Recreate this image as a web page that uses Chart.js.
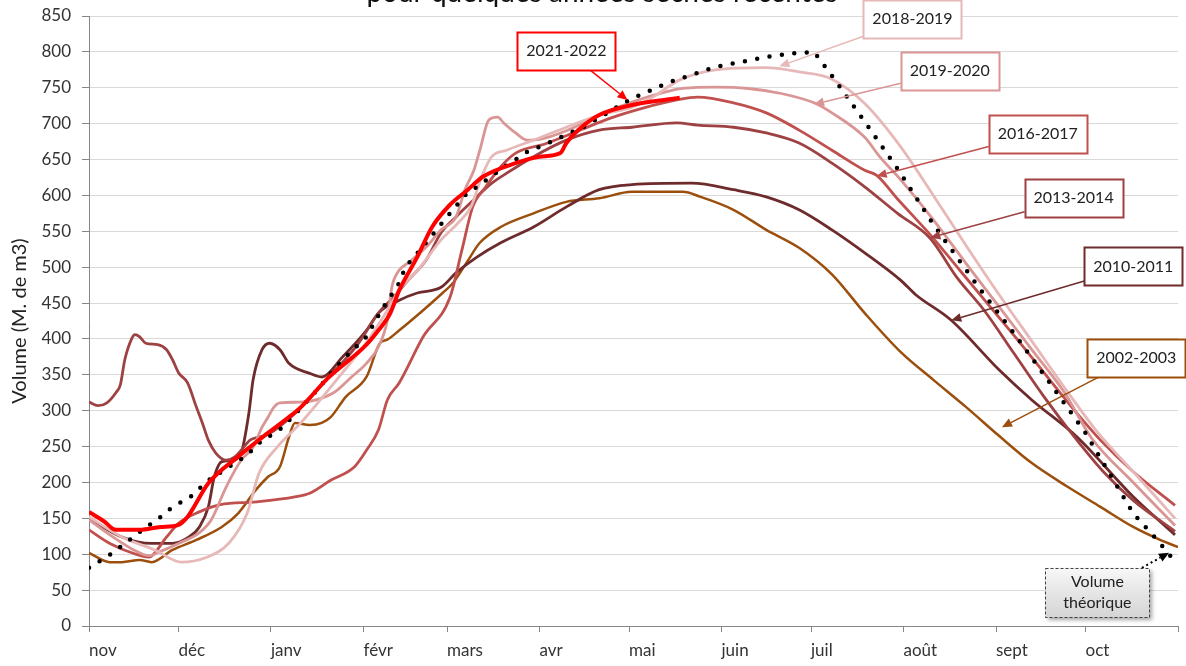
<!DOCTYPE html>
<html>
<head>
<meta charset="utf-8">
<script src="https://cdn.jsdelivr.net/npm/chart.js@4.4.0/dist/chart.umd.min.js"></script>
<style>
  html, body { margin: 0; padding: 0; background: #fff; }
</style>
</head>
<body>
<canvas id="c" width="1186" height="666"></canvas>
<script>
// days counted from 1 Nov; values in millions of m3
const monthLabels = ['nov', 'déc', 'janv', 'févr', 'mars', 'avr', 'mai', 'juin', 'juil', 'août', 'sept', 'oct', ''];
const monthStarts = [0, 30, 61, 92, 120, 151, 181, 212, 242, 273, 304, 334, 365];
const yTicks = [0, 850, 50]; // min, max, step

const s2122 = [[0,159],[5,146],[9,134],[17,134],[24,138],[30,141],[33,152],[40,199],[50,236],[60,269],[67,291],[71,305],[80,345],[93,392],[97,412],[101,436],[104,468],[110,514],[115,556],[121,587],[127,608],[132,626],[143,645],[151,654],[158,659],[160,673],[164,691],[171,712],[182,726],[198,736]];

const s1819 = [[0,152],[11,124],[22,106],[31,89],[39,95],[47,116],[53,157],[57,213],[63,249],[71,283],[83,343],[93,395],[100,440],[104,468],[111,500],[118,538],[124,563],[128,584],[132,630],[135,654],[140,663],[149,677],[160,695],[171,712],[182,723],[189,737],[194,751],[198,761],[210,775],[227,778],[238,772],[249,762],[260,728],[272,668],[283,600],[294,530],[305,462],[316,397],[327,332],[338,270],[350,215],[364,150]];

const s1920 = [[0,148],[7,127],[15,106],[20,98],[24,104],[30,115],[37,130],[41,148],[46,194],[51,231],[55,249],[58,277],[60,291],[62,305],[64,311],[71,312],[82,325],[88,347],[93,366],[97,389],[100,426],[101.5,472],[104,496],[107,506],[113,528],[118,552],[123,570],[126,608],[129,635],[131,663],[134,705],[137,709],[139,701],[143,687],[147,677],[151,678],[160,690],[171,712],[182,730],[194,745],[199,749],[210,751],[221,749],[232,742],[243,729],[249,715],[260,681],[265,654],[272,622],[283,566],[294,505],[305,445],[316,385],[327,325],[336,262],[350,200],[364,140]];

const s1617 = [[0,134],[7,115],[15,101],[20,96],[26,124],[30,143],[37,159],[44,169],[56,173],[69,180],[74,185],[81,203],[89,222],[93,245],[97,273],[100,315],[104,339],[112,403],[121,458],[125,524],[128.6,584],[133,612],[138,640],[143,659],[153,672],[164,690],[175,708],[186,722],[197,733],[204,737],[216,729],[227,715],[238,691],[249,663],[260,635],[264,628],[271,595],[282,545],[292,495],[302,445],[312,395],[322,343],[332,292],[339,259],[350,215],[364,168]];

const s1314 = [[0,312],[3,307],[6,311],[9,325],[10.5,336],[12,371],[14.4,401],[15.4,406],[17,403],[19,394],[23,392],[26,385],[28,371],[30,353],[33,339],[36,305],[38,283],[40,259],[42.5,241],[46,231],[49,236],[51,245],[54,259],[60,267],[70,300],[80,345],[90,392],[97,436],[102,458],[107,482],[113,510],[118,548],[123,570],[129,594],[135,617],[140,631],[149,654],[160,677],[171,691],[182,695],[197,701],[204,698],[216,695],[227,687],[238,673],[249,645],[260,612],[271,575],[282,540],[291,485],[300,440],[310,380],[320,320],[330,265],[340,215],[350,175],[364,132]];

const s1011 = [[0,150],[11,124],[21,115],[28,115],[33.5,124],[37,138],[40,166],[42,208],[44.5,229],[48,231],[51,241],[53.6,297],[55,343],[58,385],[60.6,394],[64,385],[67,366],[74,352],[78,347],[85,375],[93,412],[97,436],[104,454],[110,464],[118,472],[123,492],[130,514],[138,534],[149,556],[160,584],[171,608],[182,615],[202,617],[216,608],[227,598],[238,580],[249,552],[260,520],[272,482],[277,462],[289,426],[305,357],[316,315],[331,264],[350,180],[364,127]];

const s0203 = [[0,102],[7,89],[11,89],[17,92],[21,89],[28,106],[36,120],[44.5,138],[50,157],[56,190],[60,208],[64,222],[67,263],[69,283],[74,280],[78,283],[81,291],[86,319],[93,347],[97.5,394],[100,399],[104,412],[112,440],[118.5,464],[122,478],[126.5,506],[131,534],[138,556],[149,575],[160,591],[171,596],[182,605],[199,605],[205,598],[216,580],[227,552],[238,527],[249,490],[260,436],[272,382],[283,343],[294,305],[305,265],[316,227],[328,194],[339,166],[350,138],[359,120],[365,110]];

const sTheo = [[0,81],[8,102],[17,131],[24,152],[28,166],[34,180],[40,203],[47,222],[53,238],[57,255],[65,277],[75,322],[85,371],[93,403],[98,440],[101,459],[104,478],[106,500],[110,519],[118,560],[126,600],[140,642],[147,661],[154,673],[166,696],[181,733],[194,757],[210,779],[227,793],[236,798],[243,800],[250,761],[262,691],[272,631],[282,566],[285,548],[298,473],[310,408],[322,339],[334,269],[350,157],[358,120],[363,95]];

const notes = [
  { text: ['2021-2022'], color: '#FF0000', box: [160, 801], tip: [180.5, 733] },
  { text: ['2018-2019'], color: '#E6B9B8', box: [276, 846], tip: [231.4, 780] },
  { text: ['2019-2020'], color: '#D99694', box: [288.5, 773], tip: [243, 727] },
  { text: ['2016-2017'], color: '#C0504D', box: [318, 686], tip: [264, 627] },
  { text: ['2013-2014'], color: '#9E4143', box: [330, 596], tip: [282, 541] },
  { text: ['2010-2011'], color: '#6E2B2B', box: [350, 501], tip: [289, 426] },
  { text: ['2002-2003'], color: '#9C4E0C', box: [351, 374], tip: [306, 277] },
  { text: ['Volume', 'théorique'], color: '#000', box: [338, 47], tip: [362, 102], theo: true }
];

const toXY = arr => arr.map(p => ({ x: p[0], y: p[1] }));

function line(label, data, color, width) {
  return {
    label: label,
    data: toXY(data),
    borderColor: color,
    borderWidth: width,
    pointRadius: 0,
    fill: false,
    cubicInterpolationMode: 'monotone'
  };
}

function edgePoint(cx, cy, w, h, tx, ty) {
  const dx = tx - cx, dy = ty - cy;
  const sx = dx ? (w / 2) / Math.abs(dx) : Infinity;
  const sy = dy ? (h / 2) / Math.abs(dy) : Infinity;
  const s = Math.min(sx, sy);
  return [cx + dx * s, cy + dy * s];
}

const notesPlugin = {
  id: 'notes',
  afterDatasetsDraw(chart) {
    const { ctx } = chart;
    const x = chart.scales.x, y = chart.scales.y;
    ctx.save();
    notes.forEach(n => {
      const cx = x.getPixelForValue(n.box[0]), cy = y.getPixelForValue(n.box[1]);
      const tx = x.getPixelForValue(n.tip[0]), ty = y.getPixelForValue(n.tip[1]);
      const w = n.theo ? 104 : 98, h = n.theo ? 49 : 38;
      const [sx, sy] = edgePoint(cx, cy, w, h, tx, ty);
      const ang = Math.atan2(ty - sy, tx - sx);
      const len = 10, half = 4.5;
      const bx = tx - Math.cos(ang) * len, by = ty - Math.sin(ang) * len;

      // arrow shaft
      ctx.strokeStyle = n.color;
      ctx.lineWidth = n.theo ? 2 : 1.5;
      ctx.setLineDash(n.theo ? [2, 3] : []);
      ctx.beginPath();
      ctx.moveTo(sx, sy);
      ctx.lineTo(bx, by);
      ctx.stroke();
      ctx.setLineDash([]);
      // arrow head
      ctx.fillStyle = n.color;
      ctx.beginPath();
      ctx.moveTo(tx, ty);
      ctx.lineTo(bx + Math.sin(ang) * half, by - Math.cos(ang) * half);
      ctx.lineTo(bx - Math.sin(ang) * half, by + Math.cos(ang) * half);
      ctx.closePath();
      ctx.fill();

      // box
      const left = Math.round(cx - w / 2) + 0.5, top = Math.round(cy - h / 2) + 0.5;
      if (n.theo) {
        ctx.save();
        ctx.shadowColor = 'rgba(0,0,0,0.35)';
        ctx.shadowBlur = 4;
        ctx.shadowOffsetX = 2;
        ctx.shadowOffsetY = 2;
        const g = ctx.createLinearGradient(0, top, 0, top + h);
        g.addColorStop(0, '#f7f7f7');
        g.addColorStop(1, '#d4d4d4');
        ctx.fillStyle = g;
        ctx.fillRect(left, top, w, h);
        ctx.restore();
        ctx.strokeStyle = '#404040';
        ctx.lineWidth = 1;
        ctx.setLineDash([3, 2]);
        ctx.strokeRect(left, top, w, h);
        ctx.setLineDash([]);
      } else {
        ctx.fillStyle = '#fff';
        ctx.fillRect(left, top, w, h);
        ctx.strokeStyle = n.color;
        ctx.lineWidth = 2;
        ctx.strokeRect(left, top, w, h);
      }
      ctx.fillStyle = '#222';
      ctx.font = '16px Lato';
      ctx.textAlign = 'center';
      ctx.textBaseline = 'middle';
      const lh = 21;
      n.text.forEach((t, i) => {
        ctx.fillText(t, cx, cy + (i - (n.text.length - 1) / 2) * lh);
      });
    });
    ctx.restore();
  }
};

// title cut off at the top of the picture
const titlePlugin = {
  id: 'cutTitle',
  afterDraw(chart) {
    const { ctx } = chart;
    ctx.save();
    ctx.fillStyle = '#111';
    ctx.font = '28px Lato';
    ctx.textAlign = 'center';
    ctx.textBaseline = 'alphabetic';
    ctx.fillText('pour quelques années sèches récentes', 602, 2);
    ctx.restore();
  }
};

Chart.defaults.font.family = 'Lato';
Chart.defaults.color = '#333';

const datasets = [
  line('2021-2022', s2122, '#FF0000', 4),
  Object.assign(line('Volume théorique', sTheo, '#000', 4.5), {
    borderDash: [0, 12.5], borderCapStyle: 'round', cubicInterpolationMode: 'default', tension: 0
  }),
  line('2018-2019', s1819, '#E6B9B8', 2.8),
  line('2019-2020', s1920, '#D99694', 2.8),
  line('2016-2017', s1617, '#C0504D', 2.8),
  line('2013-2014', s1314, '#9E4143', 2.8),
  line('2010-2011', s1011, '#6E2B2B', 2.8),
  line('2002-2003', s0203, '#9C4E0C', 2.5)
];

new Chart(document.getElementById('c'), {
  type: 'line',
  data: { datasets: datasets },
  options: {
    responsive: false,
    animation: false,
    events: [],
    layout: { padding: { left: 0, right: 7, top: 16, bottom: 0 } },
    plugins: { legend: { display: false }, tooltip: { enabled: false } },
    scales: {
      x: {
        type: 'linear',
        min: monthStarts[0],
        max: monthStarts[monthStarts.length - 1],
        afterBuildTicks: s => { s.ticks = monthStarts.map(v => ({ value: v })); },
        afterFit: s => { s.height = 40; },
        grid: { drawOnChartArea: false, drawTicks: true, tickLength: 6, tickColor: '#868686' },
        border: { color: '#868686', width: 1 },
        ticks: {
          align: 'start',
          padding: 8,
          autoSkip: false,
          maxRotation: 0,
          font: { size: 17 },
          color: '#333',
          callback: (v, i) => monthLabels[i]
        }
      },
      y: {
        min: yTicks[0],
        max: yTicks[1],
        afterFit: s => { s.width = 89; s.paddingTop = 0; s.paddingBottom = 0; },
        grid: { color: '#d9d9d9', tickLength: 7, tickColor: '#868686' },
        border: { color: '#868686', width: 1 },
        ticks: { stepSize: yTicks[2], padding: 11, font: { size: 17 }, color: '#333' },
        title: { display: true, text: 'Volume (M. de m3)', font: { size: 20 }, color: '#222', padding: { top: 8, bottom: 0 } }
      }
    }
  },
  plugins: [notesPlugin, titlePlugin]
});
</script>
</body>
</html>
